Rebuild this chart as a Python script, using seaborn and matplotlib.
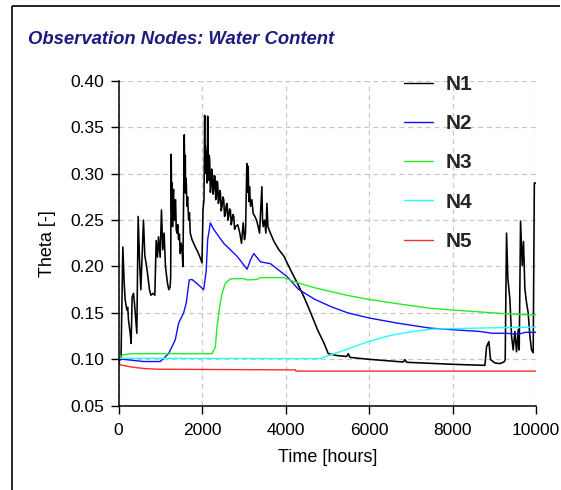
import numpy as np
import pandas as pd
import matplotlib
matplotlib.use("Agg")
import matplotlib.pyplot as plt
import seaborn as sns
from matplotlib.lines import Line2D

# ---------------- data ----------------
n1_t = [0, 60, 104, 136, 160, 200, 220, 240, 280, 303,
        327, 359, 383, 415, 439, 471, 503, 535, 567, 598,
        630, 662, 694, 742, 774, 822, 870, 902, 934, 958,
        998, 1029, 1061, 1093, 1125, 1173, 1205, 1237, 1250, 1262,
        1275, 1287, 1295, 1307, 1319, 1331, 1343, 1355, 1367, 1383,
        1399, 1419, 1439, 1459, 1479, 1499, 1519, 1543, 1575, 1590,
        1600, 1607, 1620, 1639, 1655, 1679, 1700, 1719, 1760, 1800,
        1840, 1896, 1944, 2000, 2024, 2048, 2064, 2072, 2080, 2088,
        2100, 2112, 2124, 2136, 2148, 2160, 2172, 2184, 2200, 2216,
        2232, 2248, 2264, 2280, 2296, 2312, 2328, 2344, 2360, 2376,
        2392, 2409, 2425, 2441, 2460, 2481, 2500, 2521, 2540, 2561,
        2580, 2601, 2620, 2641, 2660, 2681, 2700, 2721, 2740, 2761,
        2780, 2801, 2857, 2906, 2946, 2986, 3018, 3042, 3074, 3090,
        3106, 3122, 3138, 3162, 3194, 3226, 3266, 3306, 3346, 3378,
        3410, 3434, 3450, 3466, 3498, 3530, 3555, 3579, 3611, 3723,
        3843, 3963, 4124, 4284, 4444, 4604, 4765, 4925, 5025, 5225,
        5464, 5504, 5544, 5983, 6820, 6860, 6900, 8018, 8776, 8816,
        8871, 8911, 9015, 9135, 9230, 9262, 9294, 9326, 9374, 9414,
        9454, 9494, 9534, 9574, 9598, 9630, 9670, 9701, 9733, 9773,
        9813, 9853, 9893, 9933, 9960, 10000]
n1_v = [0.098, 0.100, 0.221, 0.182, 0.164, 0.153, 0.156, 0.142, 0.128, 0.117,
        0.167, 0.171, 0.160, 0.142, 0.128, 0.254, 0.207, 0.175, 0.214, 0.250,
        0.212, 0.203, 0.193, 0.175, 0.169, 0.171, 0.169, 0.228, 0.210, 0.232,
        0.210, 0.261, 0.218, 0.236, 0.200, 0.182, 0.175, 0.178, 0.189, 0.321,
        0.260, 0.290, 0.243, 0.275, 0.283, 0.255, 0.250, 0.270, 0.272, 0.240,
        0.236, 0.245, 0.229, 0.235, 0.214, 0.225, 0.221, 0.200, 0.342, 0.280,
        0.320, 0.279, 0.295, 0.265, 0.275, 0.250, 0.258, 0.236, 0.229, 0.225,
        0.221, 0.216, 0.211, 0.204, 0.261, 0.272, 0.363, 0.300, 0.330, 0.304,
        0.325, 0.322, 0.290, 0.362, 0.300, 0.293, 0.320, 0.315, 0.280, 0.286,
        0.305, 0.300, 0.278, 0.283, 0.298, 0.297, 0.272, 0.275, 0.292, 0.290,
        0.268, 0.272, 0.282, 0.279, 0.260, 0.265, 0.275, 0.272, 0.254, 0.257,
        0.266, 0.268, 0.250, 0.254, 0.262, 0.261, 0.245, 0.250, 0.256, 0.254,
        0.240, 0.243, 0.245, 0.236, 0.225, 0.247, 0.229, 0.236, 0.311, 0.280,
        0.308, 0.270, 0.286, 0.265, 0.272, 0.257, 0.254, 0.250, 0.243, 0.236,
        0.265, 0.286, 0.250, 0.243, 0.250, 0.236, 0.268, 0.243, 0.239, 0.227,
        0.218, 0.211, 0.196, 0.182, 0.167, 0.150, 0.132, 0.117, 0.106, 0.104,
        0.103, 0.106, 0.102, 0.100, 0.097, 0.0995, 0.0967, 0.0945, 0.0934, 0.1135,
        0.119, 0.0996, 0.096, 0.0953, 0.097, 0.099, 0.236, 0.187, 0.165, 0.125,
        0.110, 0.130, 0.108, 0.132, 0.110, 0.249, 0.201, 0.227, 0.176, 0.161,
        0.150, 0.125, 0.110, 0.107, 0.290, 0.290]

n2_t = [0, 100, 300, 600, 1000, 1200, 1360, 1440, 1560, 1620, 1695, 1760, 1896, 2040, 2100, 2136,
        2200, 2280, 2520, 2840, 3080, 3160, 3240, 3400, 3640, 4040, 4308, 4700, 5095, 5490, 6000,
        6670, 7456, 8007, 8636, 8950, 9266, 9580, 9740, 10000]
n2_v = [0.101, 0.100, 0.099, 0.0975, 0.0975, 0.106, 0.121, 0.139, 0.150, 0.160, 0.1855, 0.186, 0.181,
        0.175, 0.195, 0.229, 0.247, 0.240, 0.225, 0.211, 0.197, 0.207, 0.214, 0.205, 0.203, 0.189,
        0.1755, 0.1646, 0.1566, 0.150, 0.1445, 0.139, 0.1336, 0.1318, 0.130, 0.128, 0.128, 0.127,
        0.129, 0.129]

n3_t = [0, 100, 300, 2240, 2320, 2360, 2425, 2480, 2560, 2680, 3000, 3080, 3320, 3400, 3960, 4187,
        4666, 5464, 5983, 6661, 7459, 8018, 8656, 9294, 10000]
n3_v = [0.101, 0.1046, 0.106, 0.106, 0.113, 0.135, 0.157, 0.171, 0.182, 0.1866, 0.187, 0.1855,
        0.186, 0.188, 0.188, 0.184, 0.1774, 0.169, 0.1646, 0.160, 0.155, 0.153, 0.151, 0.149, 0.1475]

n4_t = [0, 4826, 5065, 5464, 5983, 6501, 7060, 7539, 8018, 8656, 10000]
n4_v = [0.101, 0.1007, 0.1044, 0.1106, 0.119, 0.1256, 0.130, 0.1325, 0.133, 0.1336, 0.1347]

n5_t = [0, 40, 150, 300, 600, 960, 4240, 4250, 10000]
n5_v = [0.0975, 0.094, 0.093, 0.0917, 0.090, 0.0892, 0.0885, 0.0872, 0.0872]

series_names = ["N1", "N2", "N3", "N4", "N5"]
series_colors = ["#000000", "#1010ff", "#22ee22", "#22ffff", "#ff2a2a"]
series_t = [n1_t, n2_t, n3_t, n4_t, n5_t]
series_v = [n1_v, n2_v, n3_v, n4_v, n5_v]

x_ticks = [0, 2000, 4000, 6000, 8000, 10000]
y_ticks = [0.05, 0.10, 0.15, 0.20, 0.25, 0.30, 0.35, 0.40]

title_text = "Observation Nodes: Water Content"
x_label = "Time [hours]"
y_label = "Theta [-]"

# ---------------- plotting ----------------
sns.set_theme(style="white")
plt.rcParams["font.family"] = ["Liberation Sans", "DejaVu Sans"]

W, H = 561, 490
fig = plt.figure(figsize=(W / 100, H / 100), dpi=100)
fig.patch.set_facecolor("white")
fig.patch.set_edgecolor("white")
fig.patch.set_linewidth(0)

L, R, T, B = 118.5, 536.0, 81.0, 405.6
ax = fig.add_axes([L / W, 1 - B / H, (R - L) / W, (B - T) / H])
ax.set_facecolor("white")

for name, col, t, v in zip(series_names, series_colors, series_t, series_v):
    df = pd.DataFrame({"t": t, "theta": v})
    sns.lineplot(data=df, x="t", y="theta", ax=ax, color=col,
                 lw=1.15 if name == "N1" else 1.0,
                 estimator=None, sort=False, label=name)

ax.set_xlim(0, 10000)
ax.set_ylim(0.05, 0.40)
ax.set_xticks(x_ticks)
ax.set_yticks(y_ticks)
ax.set_xticklabels([str(v) for v in x_ticks])
ax.set_yticklabels([f"{v:.2f}" for v in y_ticks])

ax.grid(True, color="#c8c8c8", linestyle=(0, (4, 3)), linewidth=0.9)
ax.set_axisbelow(True)
for s in ["top", "right"]:
    ax.spines[s].set_visible(False)
for s in ["left", "bottom"]:
    ax.spines[s].set_visible(True)
    ax.spines[s].set_color("black")
    ax.spines[s].set_linewidth(1.1)

ax.tick_params(axis="both", which="major", direction="out", length=5.5, width=1.0,
               colors="black", labelsize=12.5, bottom=True, left=True)
ax.tick_params(axis="y", pad=5)
ax.tick_params(axis="x", pad=7)

ax.set_xlabel(x_label, fontsize=13, color="black", labelpad=8)
ax.set_ylabel(y_label, fontsize=13, color="black", labelpad=10)

leg = ax.legend(loc="upper left", bbox_to_anchor=(404 / W, 1 - 75 / H),
                bbox_transform=fig.transFigure, frameon=False,
                prop={"weight": "bold", "size": 15}, handlelength=1.4,
                handletextpad=0.6, labelspacing=0.97, borderpad=0, borderaxespad=0)
for h in leg.get_lines():
    h.set_linewidth(1.0)

fig.text(28 / W, 1 - 39 / H, title_text, fontsize=13.3, fontweight="bold",
         fontstyle="italic", color="#1c1c80", ha="left", va="center")

# outer frame (left and top edges visible)
fig.add_artist(Line2D([11.5 / W, 11.5 / W], [0, 1 - 6.5 / H], transform=fig.transFigure,
                      color="black", lw=1.2, solid_capstyle="butt"))
fig.add_artist(Line2D([11.5 / W, 0.998], [1 - 6.5 / H, 1 - 6.5 / H], transform=fig.transFigure,
                      color="black", lw=1.2, solid_capstyle="butt"))

fig.savefig("out.png", dpi=100, facecolor="white")
